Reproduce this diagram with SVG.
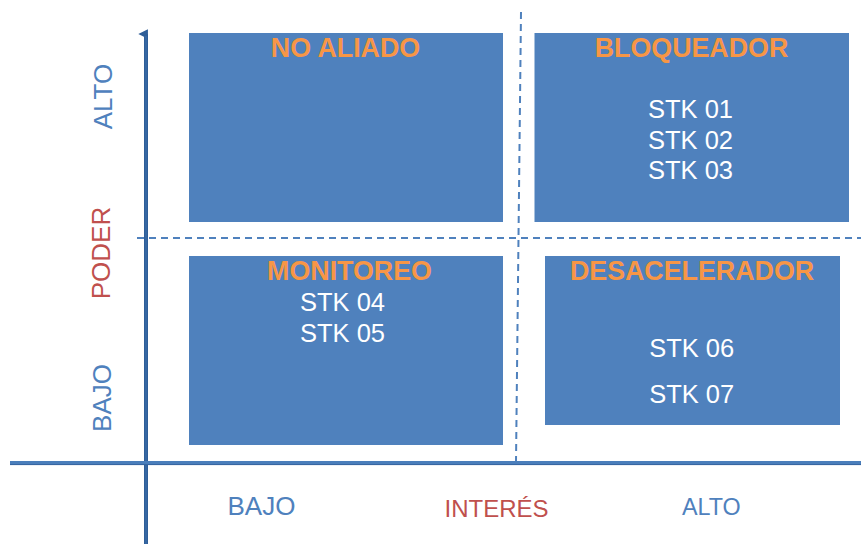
<svg xmlns="http://www.w3.org/2000/svg" width="861" height="544" viewBox="0 0 861 544">
  <style>
    .box { fill: #4f81bd; }
    .title { font-family: "Liberation Sans", Arial, sans-serif; font-size: 26.8px; font-weight: bold; fill: #f79646; text-anchor: middle; }
    .item { font-family: "Liberation Sans", Arial, sans-serif; font-size: 25.5px; fill: #ffffff; text-anchor: middle; }
    .lbl { font-family: "Liberation Sans", Arial, sans-serif; font-size: 26px; text-anchor: middle; }
    .blue { fill: #4f81bd; }
    .red { fill: #c0504d; }
    .dash { stroke: #4f81bd; stroke-width: 2; stroke-dasharray: 7 5; fill: none; }
  </style>
  <defs>
    <filter id="soft" x="-5%" y="-50%" width="110%" height="300%">
      <feGaussianBlur stdDeviation="2"/>
    </filter>
    <marker id="tip" viewBox="0 0 10 10" refX="5" refY="8" markerWidth="2.4" markerHeight="2.4" orient="auto-start-reverse" markerUnits="strokeWidth">
      <path d="M0,10 L5,0 L10,10 Z" fill="#2f5e98"/>
    </marker>
  </defs>

  <rect width="861" height="544" fill="#ffffff"/>

  <!-- quadrant dividers and axes -->
  <g id="connectors">
    <line class="dash" x1="137" y1="238" x2="861" y2="238"/>
    <line class="dash" x1="521" y1="12" x2="516" y2="462" stroke-dasharray="8 5"/>
    <!-- axis shadows -->
    <line x1="12" y1="467" x2="861" y2="467" stroke="#9a9a9a" stroke-width="4" filter="url(#soft)" opacity="0.8"/>
    <line x1="149" y1="32" x2="149" y2="544" stroke="#9a9a9a" stroke-width="3" filter="url(#soft)" opacity="0.6"/>
    <!-- power axis -->
    <line x1="146" y1="544" x2="146" y2="34" stroke="#2f5e98" stroke-width="4" marker-end="url(#tip)"/>
    <line x1="146" y1="544" x2="146" y2="36" stroke="#3f70ad" stroke-width="1"/>
    <!-- interest axis -->
    <line x1="10" y1="463" x2="861" y2="463" stroke="#4a7ebb" stroke-width="4"/>
    <line x1="10" y1="464.6" x2="861" y2="464.6" stroke="#35649f" stroke-width="1"/>
  </g>

  <g id="no-aliado">
    <rect class="box" x="189" y="33" width="314" height="189"/>
    <text class="title" x="345.5" y="57">NO ALIADO</text>
  </g>

  <g id="bloqueador">
    <rect class="box" x="534.5" y="33" width="314.5" height="189"/>
    <text class="title" x="691.5" y="57">BLOQUEADOR</text>
    <text class="item" x="690.5" y="117.7">STK 01</text>
    <text class="item" x="690.5" y="148.7">STK 02</text>
    <text class="item" x="690.5" y="179.3">STK 03</text>
  </g>

  <g id="monitoreo">
    <rect class="box" x="189" y="256" width="314" height="189"/>
    <text class="title" x="349.5" y="280">MONITOREO</text>
    <text class="item" x="342.5" y="311">STK 04</text>
    <text class="item" x="342.5" y="342.3">STK 05</text>
  </g>

  <g id="desacelerador">
    <rect class="box" x="545" y="256" width="295" height="169"/>
    <text class="title" x="692" y="280">DESACELERADOR</text>
    <text class="item" x="691.7" y="357.3">STK 06</text>
    <text class="item" x="691.7" y="402.7">STK 07</text>
  </g>

  <!-- power axis labels -->
  <g id="poder-labels">
    <text class="lbl blue" transform="translate(111.5,96.5) rotate(-90)">ALTO</text>
    <text class="lbl red" transform="translate(110,253) rotate(-90)">PODER</text>
    <text class="lbl blue" transform="translate(111,398) rotate(-90)">BAJO</text>
  </g>

  <!-- interest axis labels -->
  <g id="interes-labels">
    <text class="lbl blue" x="261.5" y="515">BAJO</text>
    <text class="lbl red" x="496.5" y="517.3" style="font-size:24px">INTERÉS</text>
    <text class="lbl blue" x="711.3" y="515" style="font-size:23.3px">ALTO</text>
  </g>
</svg>
